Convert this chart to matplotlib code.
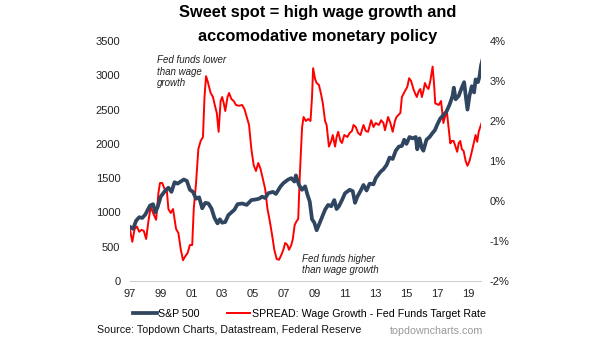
import matplotlib
matplotlib.use("Agg")
import matplotlib.pyplot as plt
from matplotlib.ticker import FuncFormatter

plt.rcParams['font.family'] = ['Liberation Sans', 'DejaVu Sans']

# S&P 500 (left axis), decimal years
spx_year = [1997.0, 1997.2, 1997.4, 1997.6, 1997.8, 1998.0, 1998.3, 1998.5, 1998.65, 1998.8,
            1999.0, 1999.3, 1999.5, 1999.7, 1999.9, 2000.1, 2000.3, 2000.5, 2000.7, 2000.9,
            2001.1, 2001.3, 2001.5, 2001.7, 2001.9, 2002.1, 2002.3, 2002.5, 2002.7, 2002.85,
            2003.0, 2003.2, 2003.4, 2003.6, 2003.8, 2004.0, 2004.3, 2004.6, 2004.9, 2005.2,
            2005.4, 2005.6, 2005.8, 2006.0, 2006.3, 2006.5, 2006.8, 2007.0, 2007.3, 2007.5,
            2007.7, 2007.8, 2008.0, 2008.2, 2008.4, 2008.55, 2008.7, 2008.85, 2009.0, 2009.15,
            2009.3, 2009.5, 2009.7, 2009.9, 2010.1, 2010.3, 2010.45, 2010.6, 2010.8, 2011.0,
            2011.3, 2011.5, 2011.65, 2011.8, 2012.0, 2012.2, 2012.4, 2012.6, 2012.85, 2013.0,
            2013.3, 2013.5, 2013.7, 2013.9, 2014.1, 2014.3, 2014.5, 2014.7, 2014.85, 2015.0,
            2015.2, 2015.4, 2015.6, 2015.7, 2015.85, 2016.0, 2016.1, 2016.3, 2016.5, 2016.7,
            2016.85, 2017.0, 2017.2, 2017.4, 2017.6, 2017.8, 2018.0, 2018.08, 2018.2, 2018.4,
            2018.6, 2018.75, 2018.85, 2018.97, 2019.1, 2019.25, 2019.4, 2019.5, 2019.65, 2019.75,
            2019.85, 2019.95]
spx = [790, 760, 880, 930, 920, 970, 1100, 1120, 1000, 1080,
       1230, 1320, 1360, 1300, 1440, 1420, 1450, 1480, 1460, 1330,
       1300, 1200, 1220, 1060, 1140, 1130, 1060, 920, 840, 900,
       850, 860, 960, 1000, 1040, 1120, 1130, 1110, 1180, 1190,
       1200, 1230, 1210, 1280, 1300, 1270, 1380, 1430, 1480, 1500,
       1450, 1540, 1400, 1330, 1380, 1260, 1160, 900, 850, 740,
       820, 930, 1040, 1110, 1090, 1180, 1050, 1090, 1180, 1280,
       1330, 1310, 1140, 1230, 1310, 1400, 1320, 1420, 1410, 1500,
       1590, 1630, 1690, 1800, 1780, 1900, 1960, 1970, 2060, 2000,
       2100, 2080, 2100, 1920, 2080, 1940, 1900, 2060, 2100, 2160,
       2200, 2280, 2370, 2420, 2470, 2570, 2700, 2820, 2650, 2700,
       2820, 2900, 2710, 2500, 2700, 2840, 2750, 2940, 2900, 2980,
       3140, 3230]

# Spread: wage growth - fed funds target rate (right axis, %)
spread_year = [1997.0, 1997.15, 1997.3, 1997.45, 1997.6, 1997.75, 1997.9, 1998.05, 1998.2, 1998.35,
               1998.5, 1998.7, 1998.85, 1998.95, 1999.1, 1999.25, 1999.4, 1999.5, 1999.65, 1999.8,
               2000.0, 2000.15, 2000.3, 2000.45, 2000.6, 2000.75, 2000.9, 2001.05, 2001.15, 2001.3,
               2001.45, 2001.6, 2001.75, 2001.85, 2001.95, 2002.05, 2002.15, 2002.25, 2002.4, 2002.55,
               2002.65, 2002.77, 2002.9, 2003.0, 2003.1, 2003.2, 2003.35, 2003.45, 2003.6, 2003.75,
               2003.9, 2004.1, 2004.3, 2004.45, 2004.6, 2004.75, 2004.9, 2005.05, 2005.2, 2005.35,
               2005.5, 2005.65, 2005.8, 2005.95, 2006.1, 2006.25, 2006.4, 2006.55, 2006.7, 2006.85,
               2007.0, 2007.1, 2007.25, 2007.35, 2007.5, 2007.6, 2007.72, 2007.85, 2007.95, 2008.05,
               2008.2, 2008.3, 2008.45, 2008.6, 2008.75, 2008.85, 2008.92, 2009.05, 2009.15, 2009.3,
               2009.45, 2009.55, 2009.7, 2009.8, 2009.95, 2010.1, 2010.2, 2010.35, 2010.45, 2010.55,
               2010.7, 2010.8, 2010.95, 2011.15, 2011.3, 2011.45, 2011.55, 2011.7, 2011.85, 2012.0,
               2012.2, 2012.35, 2012.5, 2012.7, 2012.85, 2013.0, 2013.2, 2013.35, 2013.5, 2013.6,
               2013.8, 2013.95, 2014.1, 2014.25, 2014.35, 2014.47, 2014.6, 2014.7, 2014.9, 2015.05,
               2015.17, 2015.3, 2015.45, 2015.55, 2015.67, 2015.8, 2015.9, 2016.0, 2016.1, 2016.2,
               2016.32, 2016.43, 2016.55, 2016.7, 2016.8, 2016.87, 2017.0, 2017.1, 2017.25, 2017.4,
               2017.5, 2017.63, 2017.75, 2017.85, 2017.95, 2018.07, 2018.2, 2018.3, 2018.4, 2018.5,
               2018.6, 2018.72, 2018.85, 2018.97, 2019.1, 2019.2, 2019.35, 2019.5, 2019.6, 2019.7,
               2019.8, 2019.9]
spread = [-0.72, -1.02, -0.7, -0.64, -0.77, -0.72, -0.75, -0.95, -0.5, -0.14,
          -0.3, -0.47, 0.2, 0.45, 0.45, 0.3, 0.25, -0.2, -0.3, -0.2,
          -0.7, -0.8, -1.2, -1.48, -1.38, -1.3, -1.1, -1.1, -0.2, 0.45,
          1.3, 1.5, 1.6, 2.6, 3.12, 3.0, 2.85, 2.7, 2.6, 2.35,
          2.2, 1.73, 2.5, 2.6, 2.45, 2.25, 2.6, 2.7, 2.55, 2.5,
          2.4, 2.38, 2.4, 2.3, 2.1, 1.9, 1.3, 0.9, 0.75, 0.95,
          0.8, 0.55, 0.3, -0.2, -0.5, -0.85, -1.23, -1.45, -1.47, -1.35,
          -1.2, -1.05, -1.1, -1.22, -1.1, -0.95, -0.6, -0.5, -0.45, 0.6,
          1.83, 2.1, 2.0, 2.05, 2.0, 2.6, 3.32, 3.05, 2.95, 2.9,
          2.65, 2.45, 2.0, 1.9, 1.36, 1.5, 1.65, 1.36, 1.6, 1.73,
          1.5, 1.45, 1.65, 1.6, 1.7, 1.75, 1.9, 1.85, 1.7, 1.65,
          1.9, 1.75, 1.73, 2.02, 1.85, 1.95, 1.9, 2.02, 1.95, 1.77,
          2.1, 1.95, 1.73, 2.0, 2.1, 2.15, 2.2, 2.6, 2.75, 2.85,
          3.07, 3.0, 2.8, 2.7, 2.6, 2.75, 2.8, 2.6, 2.75, 2.95,
          2.85, 2.8, 3.0, 3.36, 2.9, 2.44, 2.42, 2.4, 2.5, 1.95,
          2.1, 2.23, 1.8, 1.44, 1.5, 1.5, 1.35, 1.23, 1.45, 1.5,
          1.3, 1.25, 1.0, 0.88, 1.0, 1.15, 1.4, 1.65, 1.48, 1.73,
          1.85, 1.96]

xticks = list(range(1997, 2020, 2))
navy = '#2f4560'
red = '#ff0000'

fig = plt.figure(figsize=(6.05, 3.41), dpi=100)
ax = fig.add_axes([130 / 605, 1 - 281 / 341, 351 / 605, 240 / 341])
ax2 = ax.twinx()

l1, = ax.plot(spx_year, spx, color=navy, lw=2.7, zorder=3, label='S&P 500')
l2, = ax2.plot(spread_year, spread, color=red, lw=1.4, label='SPREAD: Wage Growth - Fed Funds Target Rate')
ax.set_zorder(ax2.get_zorder() + 1)
ax.patch.set_visible(False)

ax.set_xlim(1997, 2019.85)
ax.set_ylim(0, 3500)
ax.set_yticks(range(0, 3501, 500))
ax2.set_ylim(-2, 4)
ax2.set_yticks(range(-2, 5))
ax2.yaxis.set_major_formatter(FuncFormatter(lambda v, p: f'{int(v)}%'))
ax.set_xticks(xticks)
ax.set_xticklabels([f'{y % 100:02d}' for y in xticks])

for a in (ax, ax2):
    for s in a.spines.values():
        s.set_visible(False)
    a.tick_params(length=0, labelsize=8, colors='#222222')
ax.spines['bottom'].set_visible(True)
ax.spines['bottom'].set_color('#d0d0d0')
ax.tick_params(axis='y', pad=7)
ax.tick_params(axis='x', pad=6)
ax2.tick_params(axis='y', pad=6)

ax.text(1998.75, 3290, 'Fed funds lower\nthan wage\ngrowth', fontsize=7, style='italic',
        color='#222222', va='top', linespacing=1.15)
ax.text(2008.2, 400, 'Fed funds higher\nthan wage growth', fontsize=7, style='italic',
        color='#222222', va='top', linespacing=1.15)

fig.text(0.525, 1 - 13 / 341, 'Sweet spot = high wage growth and',
         ha='center', va='center', fontsize=11.8, fontweight='bold')
fig.text(0.525, 1 - 36 / 341, 'accomodative monetary policy',
         ha='center', va='center', fontsize=11.8, fontweight='bold')
fig.legend(handles=[l1, l2], loc='center left', bbox_to_anchor=(133 / 605, 1 - 314 / 341), ncol=2,
           frameon=False, fontsize=7.7, handlelength=2.2, columnspacing=2.6, handletextpad=0.1,
           borderpad=0, borderaxespad=0)
fig.text(97 / 605, 1 - 330 / 341, 'Source: Topdown Charts, Datastream, Federal Reserve', fontsize=7.7,
         color='#111111', va='center')
fig.text(483 / 605, 1 - 331 / 341, 'topdowncharts.com', fontsize=7.7, color='#999999',
         va='center', ha='right')

fig.savefig('out.png', dpi=100)
